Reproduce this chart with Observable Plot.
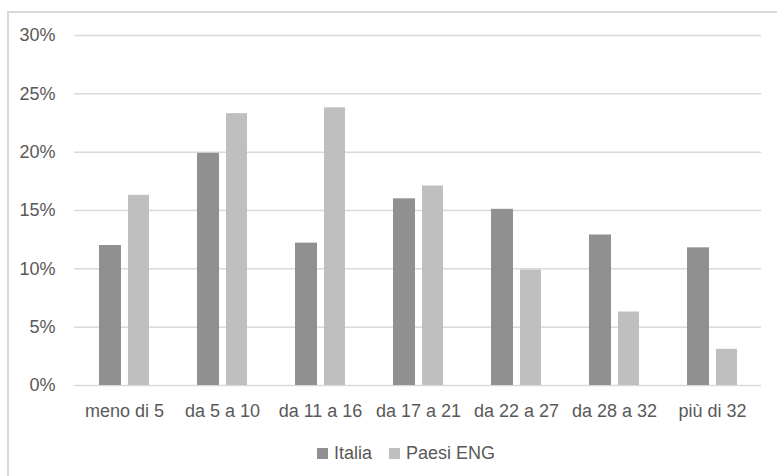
<!DOCTYPE html>
<html>
<head>
<meta charset="utf-8">
<script src="https://cdn.jsdelivr.net/npm/d3@7"></script>
<script src="https://cdn.jsdelivr.net/npm/@observablehq/plot@0.6"></script>
<style>
  html, body { margin: 0; padding: 0; background: #fff; overflow: hidden; width: 777px; height: 476px; }
  #frame { position: absolute; left: 7px; top: 11px; width: 820px; height: 520px; border: 2px solid #d9d9d9; box-sizing: border-box; }
  #chart { position: absolute; left: 0; top: 0; }
  #legend { position: absolute; left: 317px; top: 441px; height: 24px; display: flex; align-items: center;
            font-family: "Liberation Sans", Arial, sans-serif; font-size: 18px; color: #595959; white-space: nowrap; }
  .sw { display: inline-block; width: 11px; height: 11px; margin-right: 6px; }
  .item { display: flex; align-items: center; margin-right: 17px; }
</style>
</head>
<body>
<div id="frame"></div>
<div id="chart"></div>
<div id="legend"></div>
<script>
const categories = ["meno di 5", "da 5 a 10", "da 11 a 16", "da 17 a 21", "da 22 a 27", "da 28 a 32", "più di 32"];
const italia    = [12.0, 19.9, 12.2, 16.0, 15.1, 12.9, 11.8];
const paesiENG  = [16.3, 23.3, 23.8, 17.1, 9.9, 6.3, 3.1];
const seriesNames = ["Italia", "Paesi ENG"];
const seriesColors = ["#909090", "#bfbfbf"];
const yTicks = [0, 5, 10, 15, 20, 25, 30];

const rowsItalia = categories.map((c, i) => ({category: c, value: italia[i]}));
const rowsENG = categories.map((c, i) => ({category: c, value: paesiENG[i]}));

const chart = Plot.plot({
  width: 777,
  height: 430,
  marginLeft: 74,
  marginRight: 16,
  marginTop: 35,
  marginBottom: 45,
  style: {fontFamily: "'Liberation Sans', Arial, sans-serif", fontSize: "18px", color: "#595959", background: "transparent", overflow: "visible"},
  x: {domain: categories, padding: 0, label: null},
  y: {domain: [0, 30], label: null},
  marks: [
    Plot.ruleY(yTicks, {stroke: "#d9d9d9", strokeWidth: 1.5}),
    Plot.barY(rowsItalia, {x: "category", y: "value", fill: seriesColors[0], insetLeft: 24, insetRight: 52}),
    Plot.barY(rowsENG, {x: "category", y: "value", fill: seriesColors[1], insetLeft: 53, insetRight: 24}),
    Plot.axisY({ticks: yTicks, tickSize: 0, tickPadding: 19, tickFormat: d => d + "%", label: null, fill: "#595959"}),
    Plot.axisX({tickSize: 0, tickPadding: 19, label: null, fill: "#595959"})
  ]
});
document.getElementById("chart").appendChild(chart);

const legend = document.getElementById("legend");
seriesNames.forEach((name, i) => {
  const item = document.createElement("span");
  item.className = "item";
  const sw = document.createElement("span");
  sw.className = "sw";
  sw.style.background = seriesColors[i];
  item.appendChild(sw);
  item.appendChild(document.createTextNode(name));
  legend.appendChild(item);
});
</script>
</body>
</html>
